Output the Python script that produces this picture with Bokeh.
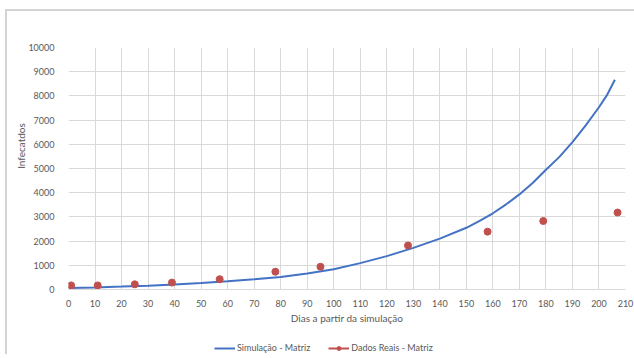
from bokeh.embed import file_html
from bokeh.layouts import column
from bokeh.models import Legend, LegendItem, Range1d, SingleIntervalTicker
from bokeh.plotting import figure
from bokeh.resources import INLINE

# Simulated infections (model output)
sim_dias = [0, 10, 20, 30, 40, 50, 60, 70, 80, 90, 100, 110, 120, 130,
            140, 150, 155, 160, 165, 170, 175, 180, 185, 190, 195, 200, 203, 206]
sim_inf = [60, 85, 120, 160, 210, 270, 340, 420, 520, 660, 840, 1090, 1380,
           1720, 2100, 2550, 2835, 3150, 3520, 3930, 4400, 4950, 5470, 6090,
           6780, 7530, 8030, 8670]

# Observed infections
real_dias = [1, 11, 25, 39, 57, 78, 95, 128, 158, 179, 207]
real_inf = [170, 170, 215, 285, 425, 735, 940, 1820, 2390, 2830, 3180]

serie_sim = "Simulação - Matriz"
serie_real = "Dados Reais - Matriz"
titulo_x = "Dias a partir da simulação"
titulo_y = "Infecatdos"

FONT = "Lato"
TXT = "#595959"
GRID = "#d9d9d9"
MOLDURA = "#d4d4d4"
AZUL = "#4472c4"
VERMELHO = "#c0504d"

LARGURA = 634

# ---- main chart -------------------------------------------------------
p = figure(width=LARGURA, height=326, output_backend="svg", toolbar_location=None,
           x_range=Range1d(0, 210), y_range=Range1d(0, 10000),
           min_border_left=68, min_border_right=9, min_border_top=47,
           min_border_bottom=36)
p.outline_line_color = None
p.border_fill_color = None
p.background_fill_color = "white"

p.xaxis.ticker = SingleIntervalTicker(interval=10)
p.yaxis.ticker = SingleIntervalTicker(interval=1000)
for ax in (p.xaxis, p.yaxis):
    ax.major_tick_line_color = None
    ax.minor_tick_line_color = None
    ax.major_label_text_font = FONT
    ax.major_label_text_font_size = "9px"
    ax.major_label_text_color = TXT
    ax.axis_label_text_font = FONT
    ax.axis_label_text_font_style = "normal"
    ax.axis_label_text_font_size = "10px"
    ax.axis_label_text_color = TXT
p.xaxis.axis_line_color = GRID
p.yaxis.axis_line_color = None
p.xaxis.major_label_standoff = 4
p.yaxis.major_label_standoff = 8
p.xaxis.axis_label = titulo_x
p.xaxis.axis_label_standoff = 2
# leading em spaces lift the vertical title above the axis midpoint
p.yaxis.axis_label = "\u2003" * 6 + titulo_y
p.yaxis.axis_label_standoff = -2

p.xgrid.grid_line_color = GRID
p.ygrid.grid_line_color = GRID

p.line(sim_dias, sim_inf, line_color=AZUL, line_width=2)
p.scatter(real_dias, real_inf, size=7, fill_color=VERMELHO, line_color=VERMELHO)

# ---- legend strip -----------------------------------------------------
# the strip's ranges keep these series outside its visible area; they only
# supply the legend swatches
q = figure(width=LARGURA, height=28, output_backend="svg", toolbar_location=None,
           x_range=Range1d(0, 1), y_range=Range1d(0, 1),
           x_axis_location=None, y_axis_location=None,
           min_border=0)
q.outline_line_color = None
q.border_fill_color = None
q.background_fill_color = None
q.grid.visible = False

chave_sim = q.line(sim_dias, sim_inf, line_color=AZUL, line_width=2)
chave_real_l = q.line(real_dias, real_inf, line_color=VERMELHO, line_width=2)
chave_real_p = q.scatter(real_dias, real_inf, size=7, fill_color=VERMELHO,
                         line_color=VERMELHO)

legenda = Legend(items=[LegendItem(label=serie_sim, renderers=[chave_sim]),
                        LegendItem(label=serie_real,
                                   renderers=[chave_real_l, chave_real_p])],
                 orientation="horizontal", location=(146, 1),
                 background_fill_alpha=0, border_line_color=None,
                 padding=0, margin=0, spacing=18, glyph_width=21,
                 glyph_height=10, label_standoff=2, label_height=10,
                 label_width=0,
                 label_text_font=FONT, label_text_font_size="9px",
                 label_text_color=TXT)
q.add_layout(legenda, "center")

pagina = column(p, q, spacing=0)
# chart-area frame: thin grey lines along the left and top edges
pagina.styles = {
    "background-color": "white",
    "background-image": f"linear-gradient({MOLDURA}, {MOLDURA}), "
                        f"linear-gradient({MOLDURA}, {MOLDURA})",
    "background-position": "5px 9px, 5px 9px",
    "background-size": "2px 100%, 100% 2px",
    "background-repeat": "no-repeat",
}

open("out.html", "w").write(file_html(pagina, INLINE))
